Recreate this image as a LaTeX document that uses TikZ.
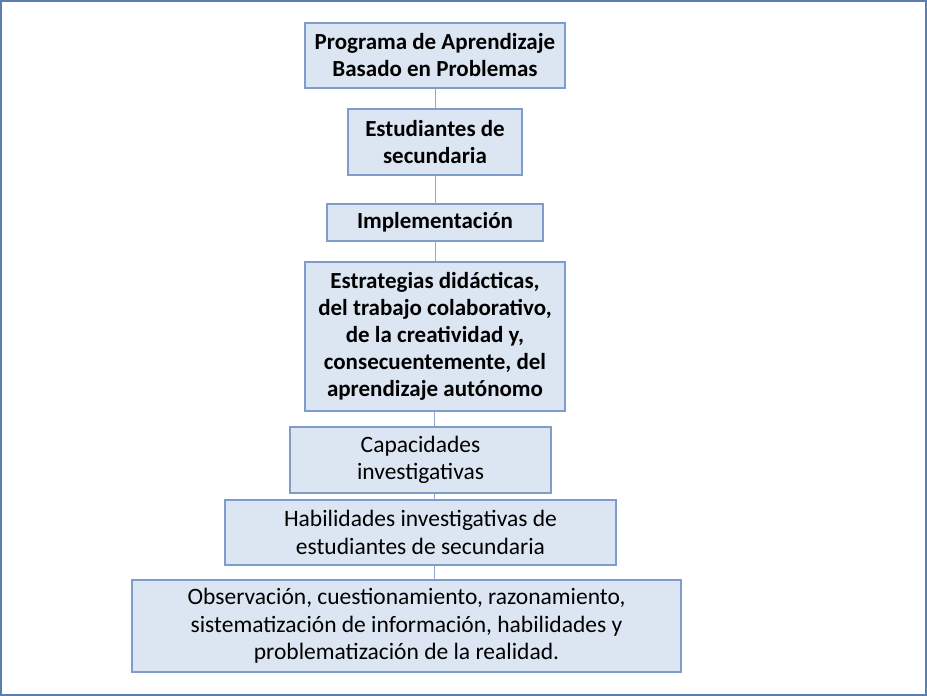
\documentclass[tikz,border=0pt]{standalone}
\usepackage{fontspec}
\setmainfont{Carlito}
\definecolor{boxfill}{HTML}{DCE6F2}
\definecolor{boxline}{HTML}{7F9CCB}
\definecolor{linkline}{HTML}{8DA9D4}
\definecolor{frameline}{HTML}{5A7DB2}
\begin{document}
\begin{tikzpicture}[x=1pt,y=-1pt,
  box/.style={draw=boxline, fill=boxfill, line width=1.2pt, inner sep=0pt, align=center, text=black},
  boldbox/.style={box, font=\fontsize{23}{27}\selectfont\bfseries},
  plainbox/.style={box, font=\fontsize{23.5}{27.5}\selectfont},
  link/.style={draw=linkline, line width=1pt}]
\useasboundingbox (0,0) rectangle (927,696);
\draw[frameline, line width=2pt] (1,1) rectangle (926,695);
\node[boldbox, minimum width=260pt, minimum height=65pt] (A) at (435,55.5) {Programa de Aprendizaje\\Basado en Problemas};
\node[boldbox, minimum width=174pt, minimum height=66pt] (B) at (435,142) {Estudiantes de\\secundaria};
\node[boldbox, minimum width=216pt, minimum height=37pt] (C) at (435,222.5) {Implementación};
\node[boldbox, minimum width=260pt, minimum height=149pt] (D) at (435,336.5) {Estrategias didácticas,\\del trabajo colaborativo,\\de la creatividad y,\\consecuentemente, del\\aprendizaje autónomo};
\node[plainbox, minimum width=261pt, minimum height=66pt] (E) at (420.5,460) {Capacidades\\investigativas};
\node[plainbox, minimum width=391pt, minimum height=65pt] (F) at (420.5,532.5) {Habilidades investigativas de\\estudiantes de secundaria};
\node[plainbox, minimum width=549pt, minimum height=92pt] (G) at (406.5,626) {Observación, cuestionamiento, razonamiento,\\sistematización de información, habilidades y\\problematización de la realidad.};
\draw[link] (A) -- (B);
\draw[link] (B) -- (C);
\draw[link] (C) -- (D);
\draw[link] ([xshift=-1pt]D.south) -- ([xshift=-1pt]D.south |- E.north);
\draw[link] ([xshift=13.5pt]E.south) -- ([xshift=13.5pt]E.south |- F.north);
\draw[link] ([xshift=13.5pt]F.south) -- ([xshift=13.5pt]F.south |- G.north);
\end{tikzpicture}
\end{document}
